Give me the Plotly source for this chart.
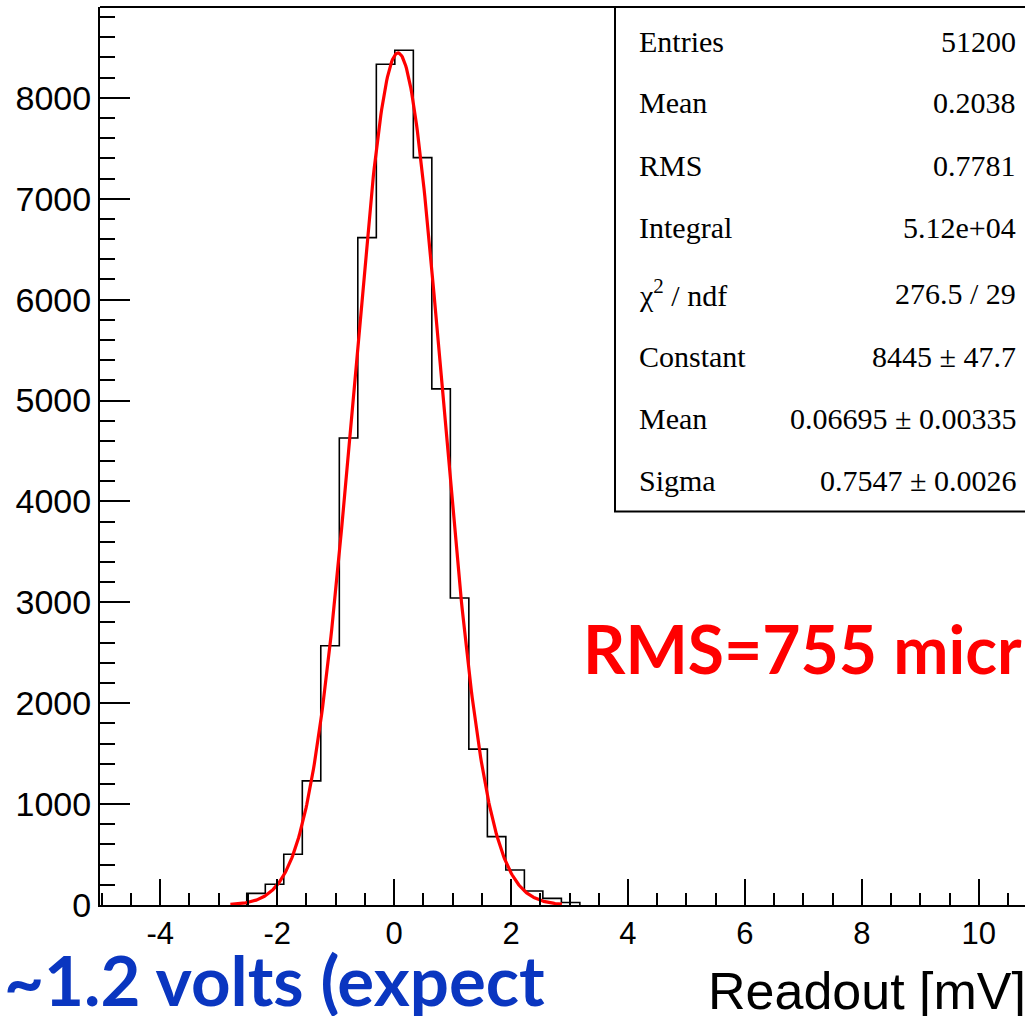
import numpy as np
import plotly.graph_objects as go

# ---- data ----
bin_edges = [-2.520, -2.203, -1.887, -1.570, -1.254, -0.937, -0.621, -0.304,
             0.012, 0.329, 0.645, 0.962, 1.278, 1.595, 1.911, 2.228, 2.544,
             2.861, 3.177]
bin_counts = [115, 205, 503, 1230, 2569, 4629, 6614, 8333, 8472, 7407,
              5115, 3043, 1545, 678, 347, 139, 66, 25]

# fit results (Gaussian) as printed in the stats box
fit_constant = 8445.0
fit_mean = 0.06695
fit_sigma = 0.7547
fit_range = [-2.8, 2.87]

x_tick_vals = [-4, -2, 0, 2, 4, 6, 8, 10]
x_tick_text = ["-4", "-2", "0", "2", "4", "6", "8", "10"]
y_tick_vals = [0, 1000, 2000, 3000, 4000, 5000, 6000, 7000, 8000]
y_tick_text = ["0", "1000", "2000", "3000", "4000", "5000", "6000", "7000", "8000"]

stat_labels = ["Entries", "Mean", "RMS", "Integral", "χ<sup>2</sup> / ndf",
               "Constant", "Mean", "Sigma"]
stat_values = ["51200", "0.2038", "0.7781", "5.12e+04", "276.5 / 29",
               "8445 ± 47.7", "0.06695 ± 0.00335", "0.7547 ± 0.0026"]

x_range = [-5.03, 10.79]
y_range = [0, 8900]

# ---- geometry helpers (pixels -> paper) ----
W, H = 1025, 1016
L, R, T, B = 100, 0, 7, 111
pw, ph = W - L - R, H - T - B


def px(xp):
    return (xp - L) / pw


def py(yp):
    return (H - B - yp) / ph


# histogram outline (ROOT style step)
hx = [bin_edges[0]]
hy = [0]
for i, c in enumerate(bin_counts):
    hx += [bin_edges[i], bin_edges[i + 1]]
    hy += [c, c]
hx.append(bin_edges[-1])
hy.append(0)

fx = np.linspace(fit_range[0], fit_range[1], 400)
fy = fit_constant * np.exp(-0.5 * ((fx - fit_mean) / fit_sigma) ** 2)

fig = go.Figure()
fig.add_trace(go.Scatter(x=hx, y=hy, mode="lines",
                         line=dict(color="black", width=1.6),
                         hoverinfo="skip", showlegend=False))
fig.add_trace(go.Scatter(x=fx, y=fy, mode="lines",
                         line=dict(color="#ff0000", width=3.2),
                         hoverinfo="skip", showlegend=False))

tickfont_x = dict(family="Liberation Sans, Arial", size=31, color="black")
tickfont_y = dict(family="Liberation Sans, Arial", size=34, color="black")

fig.update_xaxes(range=x_range, tickmode="array", tickvals=x_tick_vals,
                 ticktext=x_tick_text, ticks="inside",
                 ticklen=26, tickwidth=2, tickcolor="black",
                 minor=dict(dtick=0.5, tick0=0, ticks="inside", ticklen=12,
                            tickwidth=2, tickcolor="black"),
                 showline=True, linecolor="black", linewidth=2,
                 showgrid=False, zeroline=False, tickfont=tickfont_x)
fig.update_yaxes(range=y_range, tickmode="array", tickvals=y_tick_vals,
                 ticktext=y_tick_text, ticks="inside",
                 ticklen=30, tickwidth=2, tickcolor="black",
                 minor=dict(dtick=200, tick0=0, ticks="inside", ticklen=15,
                            tickwidth=2, tickcolor="black"),
                 showline=True, linecolor="black", linewidth=2,
                 showgrid=False, zeroline=False, tickfont=tickfont_y)

shapes = [
    # top frame line
    dict(type="line", xref="paper", yref="paper", x0=0, x1=1.05, y0=1, y1=1,
         line=dict(color="black", width=2)),
    # stats box
    dict(type="rect", xref="paper", yref="paper", x0=px(615), x1=1.05,
         y0=py(511.5), y1=1, line=dict(color="black", width=2),
         fillcolor="white", layer="above"),
]

annotations = []
row_y = [42, 103, 166, 228, 293, 356, 418, 480]
sfont = dict(family="Liberation Serif, Times New Roman", size=30, color="black")
for lab, val, yy in zip(stat_labels, stat_values, row_y):
    annotations.append(dict(xref="paper", yref="paper", x=px(637), y=py(yy),
                            text=lab, showarrow=False, xanchor="left",
                            yanchor="middle", font=sfont))
    annotations.append(dict(xref="paper", yref="paper", x=px(1018), y=py(yy),
                            text=val, showarrow=False, xanchor="right",
                            yanchor="middle", font=sfont))

annotations.append(dict(xref="paper", yref="paper", x=px(706), y=py(991),
                        text="Readout [mV]", showarrow=False, xanchor="left",
                        yanchor="middle",
                        font=dict(family="Liberation Sans, Arial", size=52,
                                  color="black")))
annotations.append(dict(xref="paper", yref="paper", x=px(581), y=py(648),
                        text="<b>RMS=755 micr</b>", showarrow=False,
                        xanchor="left", yanchor="middle",
                        font=dict(family="Lato", size=66, color="#ff0000")))
annotations.append(dict(xref="paper", yref="paper", x=px(2), y=py(979),
                        text="<b>~1.2 volts (expect</b>", showarrow=False,
                        xanchor="left", yanchor="middle",
                        font=dict(family="Lato", size=69, color="#0a36c0")))

fig.update_layout(width=W, height=H,
                  margin=dict(l=L, r=R, t=T, b=B, pad=0),
                  paper_bgcolor="white", plot_bgcolor="white",
                  shapes=shapes, annotations=annotations, showlegend=False)

fig.write_html("out.html", config={"displayModeBar": False})
